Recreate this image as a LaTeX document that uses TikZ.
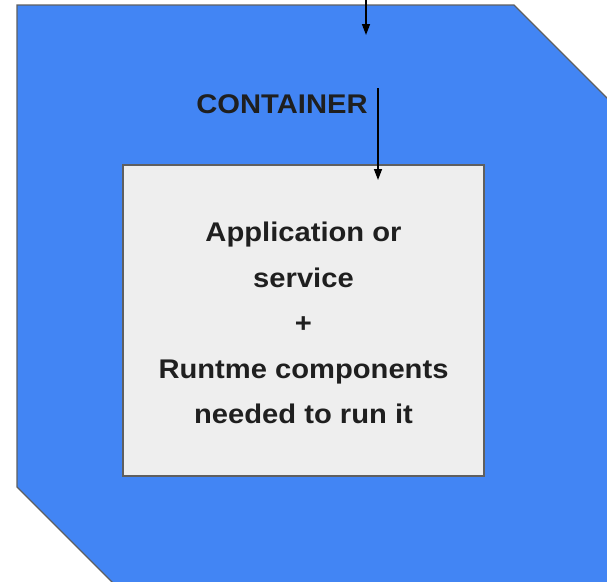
\documentclass[tikz,border=0pt]{standalone}
\usepackage{fontspec}
\setmainfont{Liberation Sans}[FakeStretch=1.08]
\usetikzlibrary{arrows.meta}
\definecolor{contblue}{HTML}{4285F4}
\definecolor{appgray}{HTML}{EEEEEE}
\definecolor{edgegray}{HTML}{5F5F5F}
\definecolor{inktext}{HTML}{1F1F1F}
\tikzset{
    label text/.style={font=\bfseries\fontsize{27}{45.5}\selectfont, text=inktext},
    flow/.style={line width=1.4pt, -{Triangle[width=8pt,length=11pt]}}
}

\begin{document}
\begin{tikzpicture}[x=1pt, y=-1pt]
        \useasboundingbox (0, 0) rectangle (607, 581);
        \clip (0, 0) rectangle (607, 581);

        \draw[fill=contblue, draw=edgegray, line width=1.3pt] (17, 5) -- (514, 5) -- (640, 131) -- (640, 640) -- (170, 640) -- (17, 487) -- cycle;

        \node[draw=edgegray, fill=appgray, line width=1.8pt, minimum width=361pt, minimum height=311pt, inner sep=0pt] (app) at (303.5, 320.5) {};

        \node[label text, align=center] (appText) at (303.5, 323) {Application or\\service\\+\\Runtme components\\needed to run it};

        \node[label text, anchor=base] (container) at (282, 113) {CONTAINER};

        \coordinate (inTop) at (366, -2);
        \coordinate (inEnd) at (366, 35);
        \coordinate (midTop) at (378, 88);
        \coordinate (midEnd) at (378, 180);

        \draw[flow] (inTop) -- (inEnd);
        \draw[flow] (midTop) -- (midEnd);
    \end{tikzpicture}
\end{document}
